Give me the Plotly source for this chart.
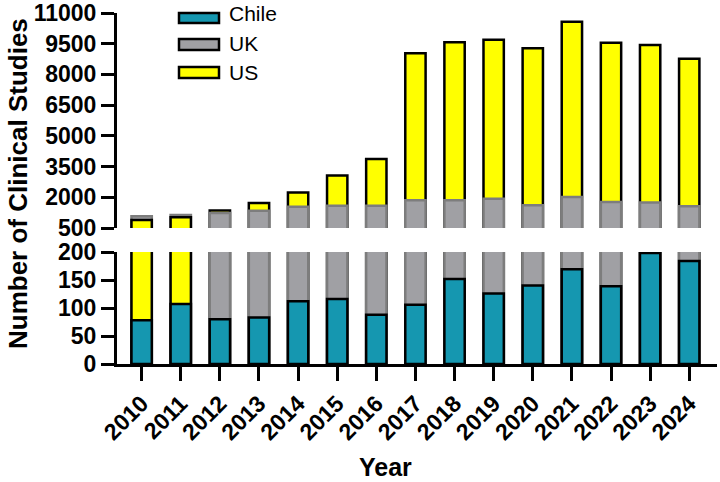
import plotly.graph_objects as go

years = [str(y) for y in range(2010, 2025)]
chile = [78, 107, 80, 83, 112, 116, 88, 106, 152, 126, 140, 169, 139, 198, 184]
uk = [1070, 1130, 1230, 1340, 1540, 1590, 1590, 1850, 1860, 1930, 1610, 2020, 1770, 1740, 1560]
us = [890, 1020, 1350, 1725, 2230, 3065, 3870, 9030, 9570, 9690, 9280, 10570, 9550, 9440, 8760]

series_names = ["Chile", "UK", "US"]
series_vals = [chile, uk, us]
fill = {"Chile": "#1597b0", "UK": "#a0a0a4", "US": "#ffff00"}
edge = {"Chile": "#000000", "UK": "#7d7d7d", "US": "#000000"}
edge_w = {"Chile": 2.5, "UK": 2.5, "US": 2.5}

upper_ticks = [500, 2000, 3500, 5000, 6500, 8000, 9500, 11000]
upper_labels = ["500", "2000", "3500", "5000", "6500", "8000", "9500", "11000"]
lower_ticks = [0, 50, 100, 150, 200]
lower_labels = ["0", "50", "100", "150", "200"]

# layers: each year's bars overlap from zero, smallest in front
layers = [dict(y=[], c=[], lc=[], lw=[]) for _ in range(3)]
for i in range(len(years)):
    items = sorted(zip(series_names, [v[i] for v in series_vals]), key=lambda t: -t[1])
    for k, (nm, v) in enumerate(items):
        layers[k]["y"].append(v)
        layers[k]["c"].append(fill[nm])
        layers[k]["lc"].append(edge[nm])
        layers[k]["lw"].append(edge_w[nm])

fig = go.Figure()
for ya, xa in (("y", "x"), ("y2", "x2")):
    for L in layers:
        fig.add_trace(go.Bar(x=years, y=L["y"], xaxis=xa, yaxis=ya, width=0.52,
                             marker=dict(color=L["c"], line=dict(color=L["lc"], width=L["lw"])),
                             showlegend=False, hoverinfo="x+y"))

W, H = 720, 482
L_, R_, T_, B_ = 117, 3, 13, 118
ph = H - T_ - B_
pw = W - L_ - R_


def py(y):
    return (H - B_ - y) / ph


def px(x):
    return (x - L_) / pw


font_b = dict(family="Liberation Sans, Arial", size=23, color="black", weight="bold")
axis_common = dict(showline=True, linewidth=3, linecolor="black", ticks="outside",
                   tickwidth=3, tickcolor="black", showgrid=False, zeroline=False,
                   tickfont=font_b, automargin=False, ticklabeloverflow="allow")

fig.update_layout(
    width=W, height=H, margin=dict(l=L_, r=R_, t=T_, b=B_, autoexpand=False),
    paper_bgcolor="white", plot_bgcolor="white", barmode="overlay",
    xaxis=dict(domain=[0, 1], anchor="y", range=[-0.63, 14.71], tickangle=-45, ticklen=14,
               **axis_common),
    xaxis2=dict(domain=[0, 1], anchor="y2", matches="x", visible=False, automargin=False),
    yaxis=dict(domain=[0, py(252)], anchor="x", range=[0, 200], tickvals=lower_ticks,
               ticktext=lower_labels, ticklen=13, **axis_common),
    yaxis2=dict(domain=[py(228), 1], anchor="x2", range=[500, 11000], tickvals=upper_ticks,
                ticktext=upper_labels, ticklen=13, **axis_common),
)

# Axis titles
fig.add_annotation(text="<b>Number of Clinical Studies</b>", xref="paper", yref="paper",
                   x=px(18), y=py(184), xanchor="center", yanchor="middle",
                   showarrow=False, textangle=-90,
                   font=dict(family="Liberation Sans, Arial", size=26, color="black"))
fig.add_annotation(text="<b>Year</b>", xref="paper", yref="paper",
                   x=px(385), y=py(467), xanchor="center", yanchor="middle", showarrow=False,
                   font=dict(family="Liberation Sans, Arial", size=25, color="black"))

# Legend
leg = [("Chile", 13, 23, 14), ("UK", 39, 50, 43), ("US", 67, 78, 72)]
for nm, y0, y1, ty in leg:
    fig.add_shape(type="rect", xref="paper", yref="paper", x0=px(179), x1=px(219),
                  y0=py(y1), y1=py(y0), fillcolor=fill[nm],
                  line=dict(color="black", width=2.5))
    fig.add_annotation(text=nm, xref="paper", yref="paper", x=px(227), y=py(ty),
                       xanchor="left", yanchor="middle", showarrow=False,
                       font=dict(family="Liberation Sans, Arial", size=21, color="black"))

fig.write_html("out.html")
